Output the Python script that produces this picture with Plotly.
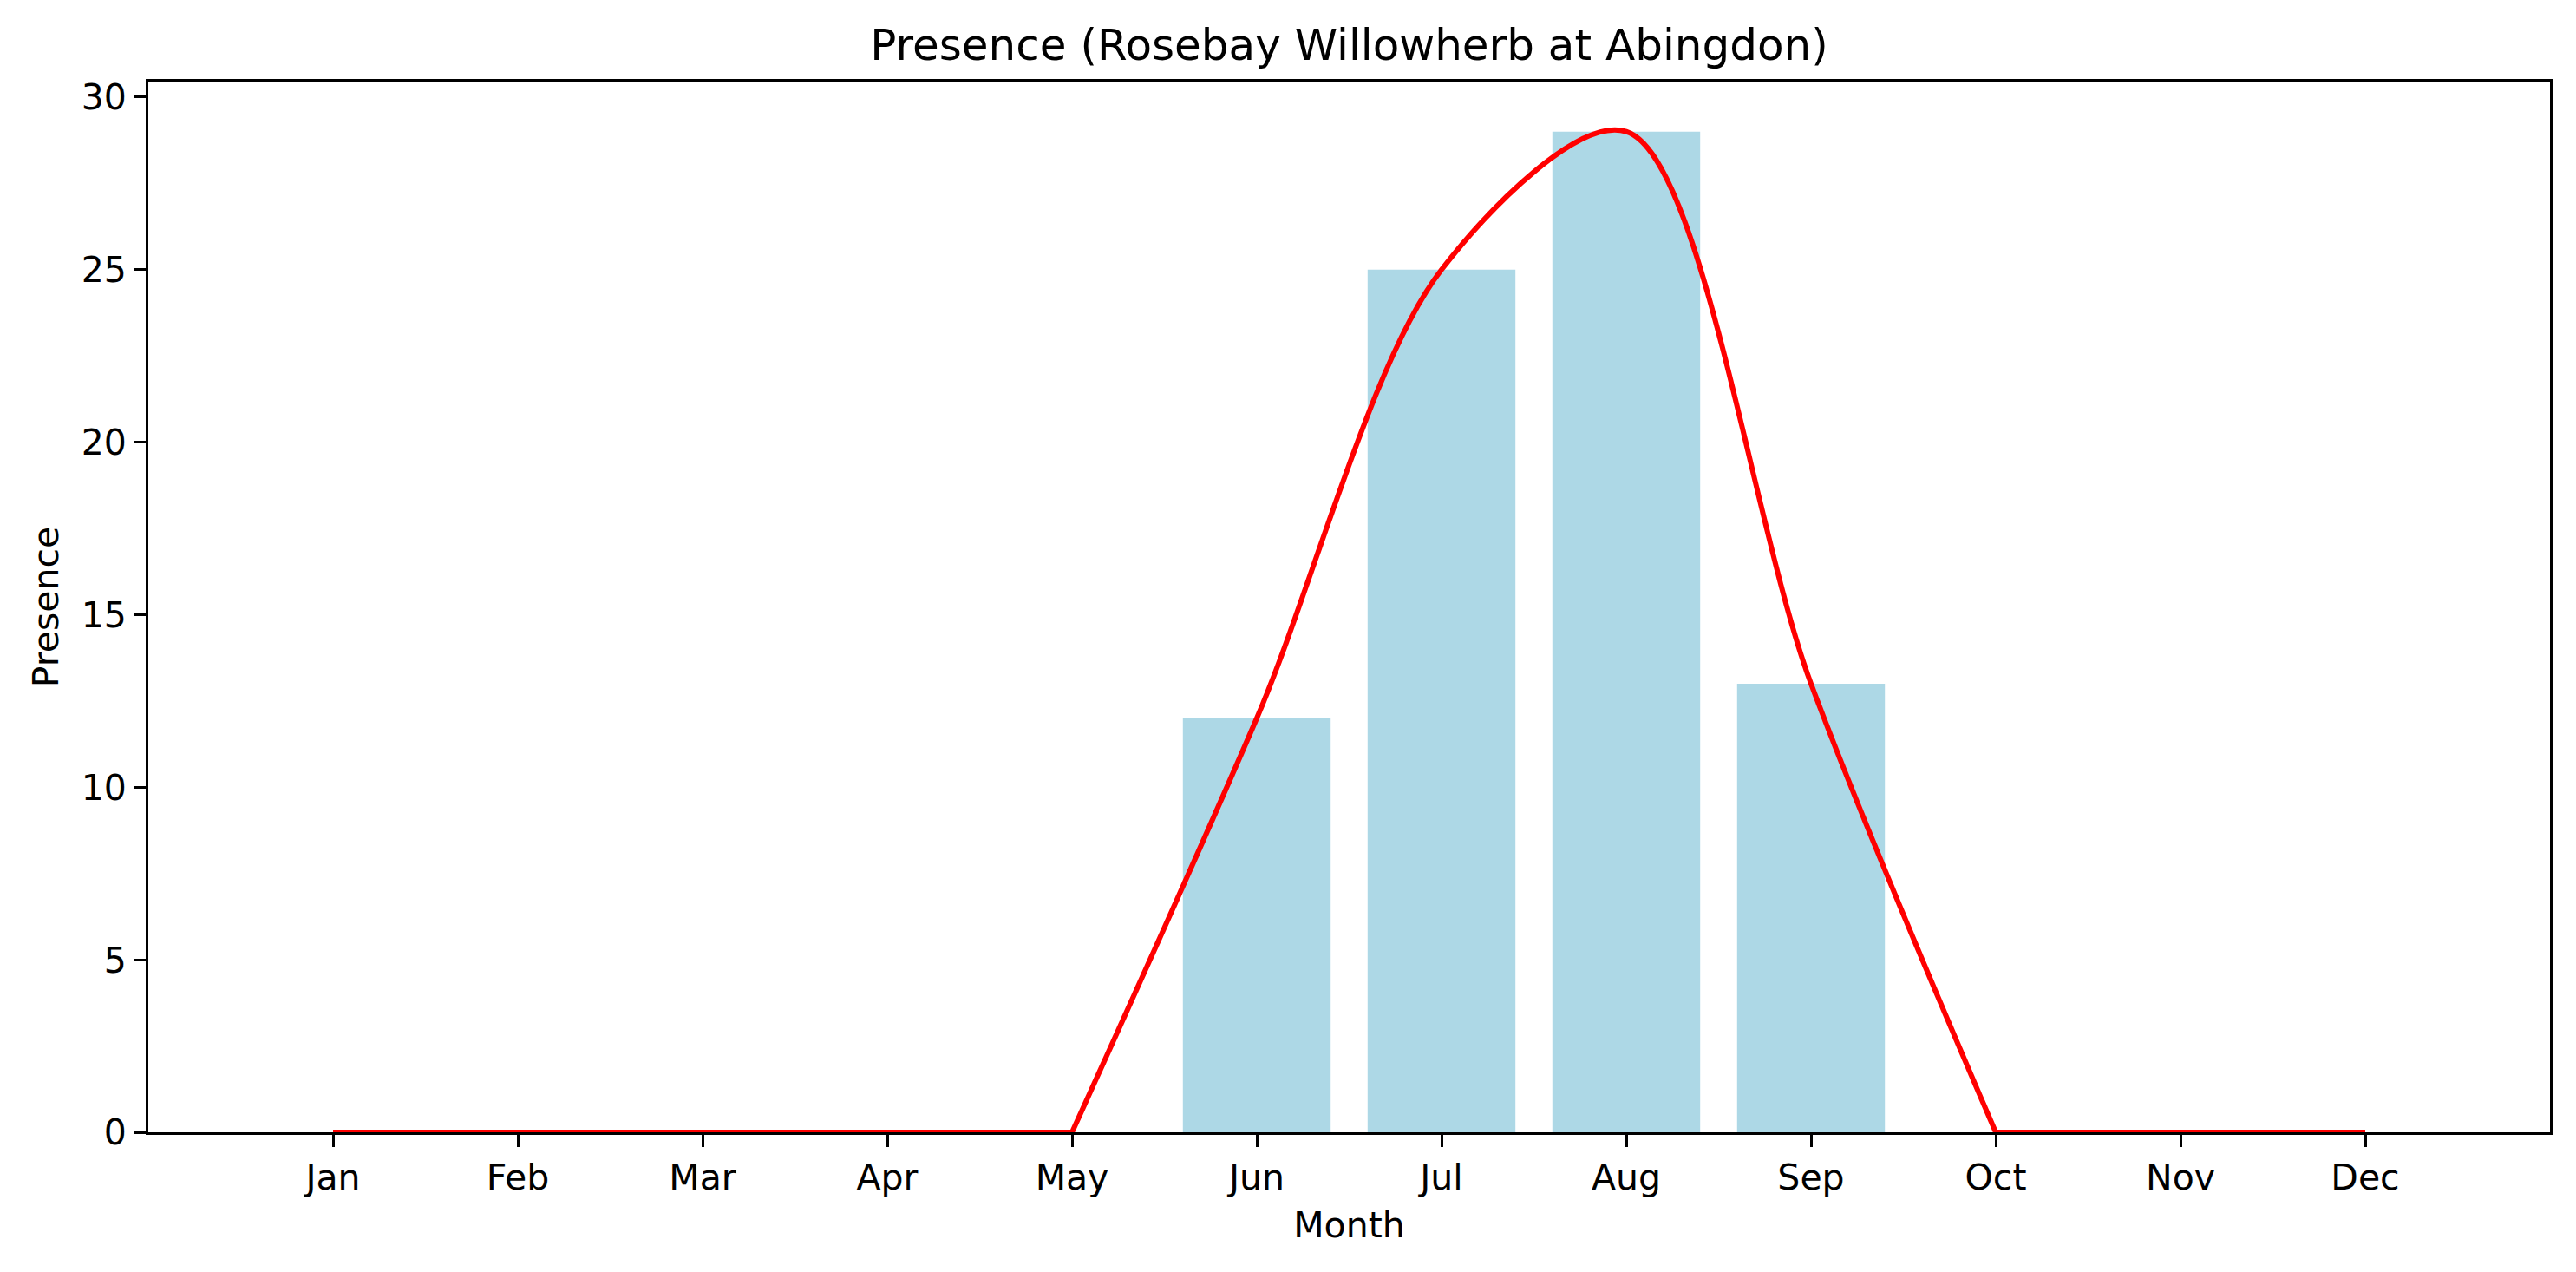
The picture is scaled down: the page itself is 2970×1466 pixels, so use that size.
import plotly.graph_objects as go

months = ["Jan", "Feb", "Mar", "Apr", "May", "Jun",
          "Jul", "Aug", "Sep", "Oct", "Nov", "Dec"]
presence = [0, 0, 0, 0, 0, 12, 25, 29, 13, 0, 0, 0]
y_ticks = [0, 5, 10, 15, 20, 25, 30]

# flat stretches drawn straight, the season drawn as a smooth curve
season = slice(4, 10)
before = slice(0, 5)
after = slice(9, 12)

fig = go.Figure()

fig.add_trace(go.Bar(
    x=months,
    y=presence,
    width=0.8,
    marker=dict(color="#ADD8E6", line=dict(width=0)),
    showlegend=False,
))

for part, shape in [(before, "linear"), (season, "spline"), (after, "linear")]:
    fig.add_trace(go.Scatter(
        x=months[part],
        y=presence[part],
        mode="lines",
        line=dict(color="red", width=6, shape=shape, smoothing=0.9),
        cliponaxis=False,
        showlegend=False,
    ))

axis_style = dict(
    showline=True, linecolor="black", linewidth=3, mirror=True,
    ticks="outside", ticklen=14, tickwidth=3, tickcolor="black",
    showgrid=False, zeroline=False,
    tickfont=dict(family="DejaVu Sans", size=41, color="black"),
)

fig.update_layout(
    width=2962, height=1458,
    paper_bgcolor="white", plot_bgcolor="white",
    margin=dict(l=163, r=30, t=86, b=161),
    title=dict(text="Presence (Rosebay Willowherb at Abingdon)",
               font=dict(family="DejaVu Sans", size=50, color="black"),
               x=0.5, xref="paper", xanchor="center",
               y=1 - 43 / 1458, yanchor="middle"),
    bargap=0.2,
)
fig.update_xaxes(axis_style, type="category", categoryarray=months,
                 range=[-1, 12],
                 title=dict(text="Month", standoff=18,
                            font=dict(family="DejaVu Sans", size=41, color="black")))
fig.update_yaxes(axis_style, range=[0, 30.45], tickvals=y_ticks,
                 title=dict(text="Presence", standoff=14,
                            font=dict(family="DejaVu Sans", size=41, color="black")))

fig.write_html("out.html")
